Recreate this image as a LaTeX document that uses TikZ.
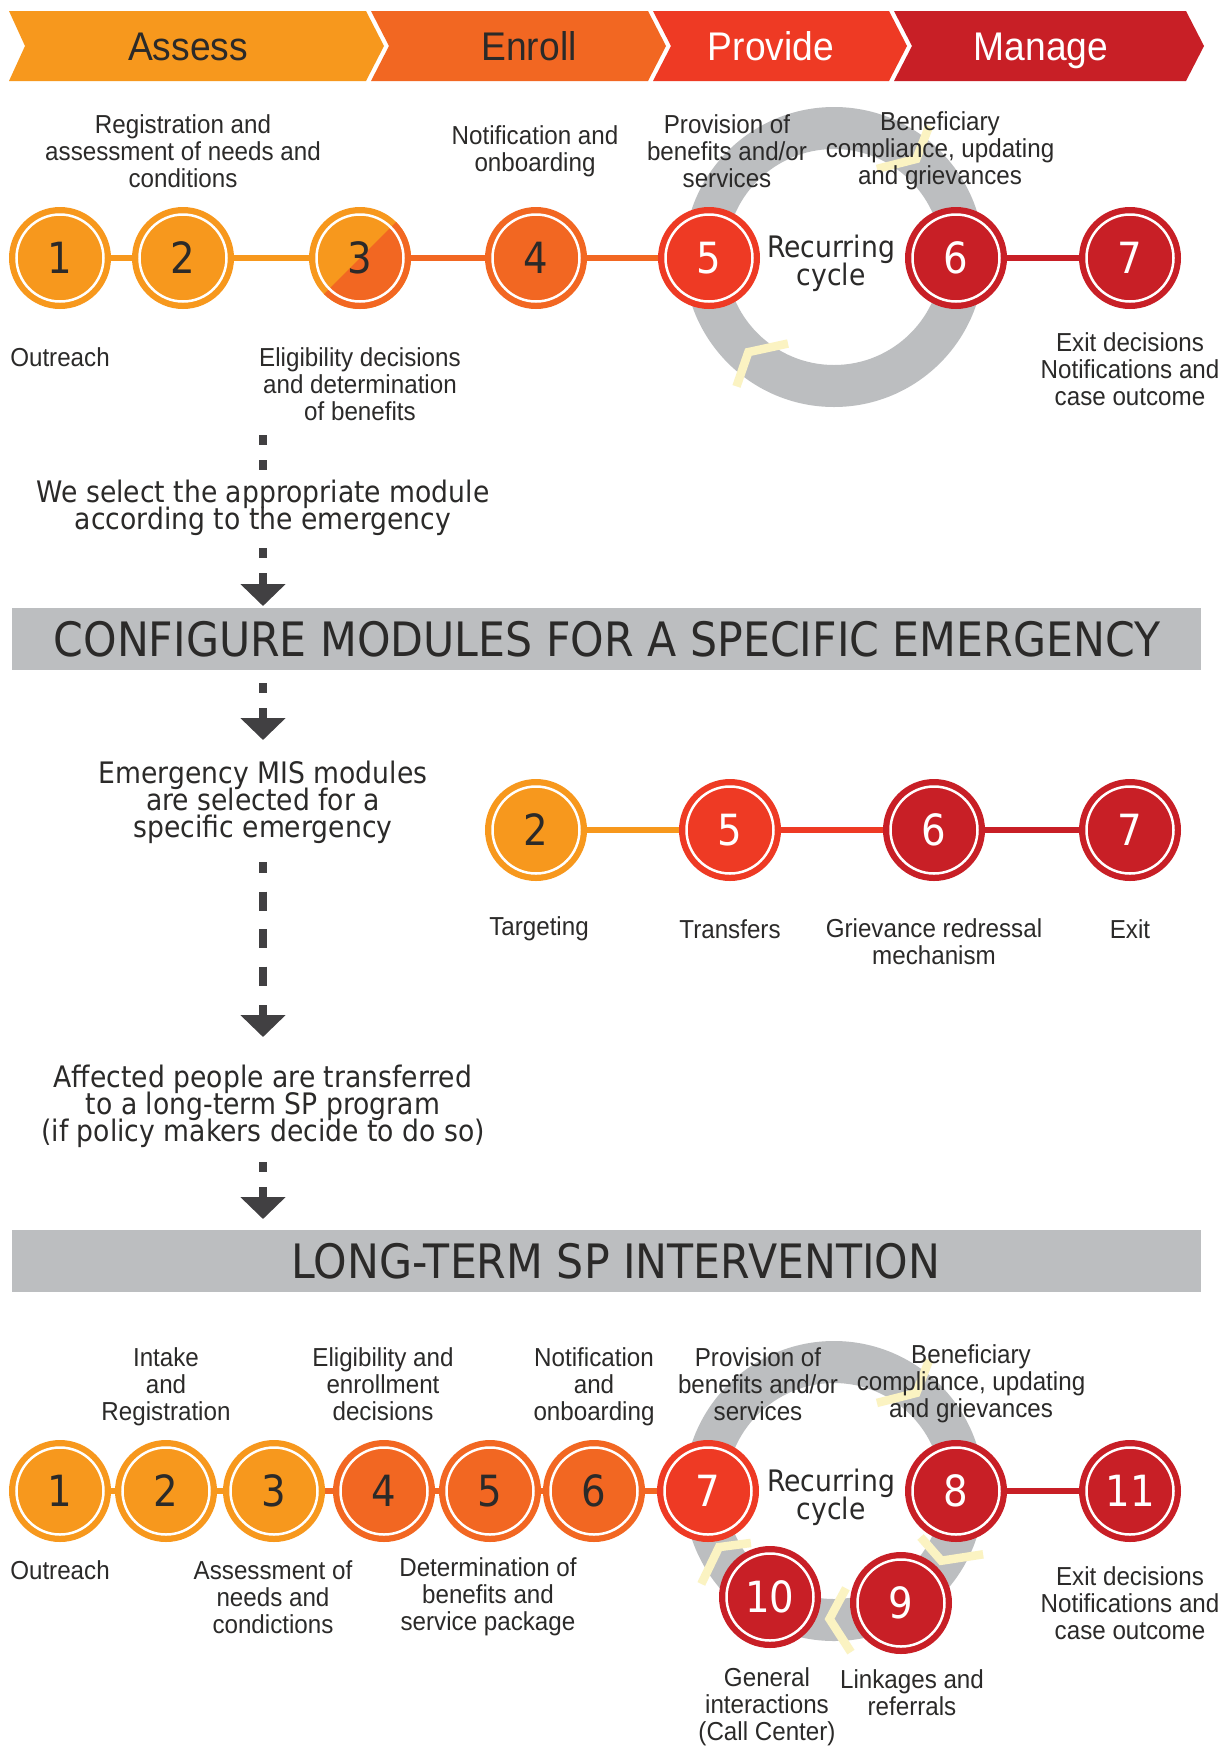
\documentclass[tikz,border=0pt]{standalone}
\usepackage{fontspec}
\setmainfont{Liberation Sans}
\newfontfamily\labfont{Liberation Sans}[FakeStretch=0.93]
\newfontfamily\tahfont{DejaVu Sans}[FakeStretch=0.9]
\usetikzlibrary{arrows.meta,calc}
\definecolor{cA}{HTML}{F7981D}
\definecolor{cE}{HTML}{F26722}
\definecolor{cP}{HTML}{EE3A24}
\definecolor{cM}{HTML}{C81F26}
\definecolor{bangray}{HTML}{BCBEC0}
\definecolor{ringgray}{HTML}{BCBEC0}
\definecolor{txt}{HTML}{2B2A29}
\definecolor{arr}{HTML}{414042}
\definecolor{paley}{HTML}{FBF3C2}
\newcommand\labsetfont{\labfont\fontsize{26}{27}\selectfont\lineskiplimit-50pt\relax}
\newcommand\tahsetfont{\tahfont\fontsize{29.6}{27}\selectfont\lineskiplimit-50pt\relax}
\newcommand\recsetfont{\tahfont\fontsize{29.6}{28}\selectfont\lineskiplimit-50pt\relax}
\tikzset{
 stepcirc/.style={circle, minimum size=102pt, inner sep=0pt, font=\tahfont\fontsize{43}{43}\selectfont},
 lab/.style={font=\labsetfont, text=txt, align=center, inner sep=0pt},
 tah/.style={font=\tahsetfont, text=txt, align=center, inner sep=0pt},
 rec/.style={font=\recsetfont, text=txt, align=center, inner sep=0pt},
 bantxt/.style={font=\tahfont\fontsize{47.4}{50}\selectfont, text=txt, inner sep=0pt},
 banbox/.style={fill=bangray, minimum width=1189pt, minimum height=62pt, inner sep=0pt},
 phasetxt/.style={font=\labfont\fontsize{40}{40}\selectfont, inner sep=0pt, anchor=base},
 conn/.style={line width=6pt},
 dashseg/.style={line width=8pt, arr},
 darrow/.style={line width=8pt, arr, -{Triangle[width=44pt,length=22pt]}},
 chev/.style={paley, line width=8.5pt, line join=miter},
}
\newcommand\mkstep[5]{%
 \node[stepcirc, fill=#3, text=#4] (#1) at (#2) {#5};
 \draw[white, line width=2.5pt] (#1.center) circle[radius=43.5pt];
}
% chevron on a ring: centre, inner-end angle, vertex angle, outer-end angle
\newcommand\ringchev[4]{%
 \draw[chev] ($(#1)+(#2:98pt)$) -- ($(#1)+(#3:128pt)$) -- ($(#1)+(#4:162pt)$);
}
\begin{document}
\begin{tikzpicture}[x=1pt,y=-1pt]
\fill[white] (0,0) rectangle (1228,1749);
\useasboundingbox (0,0) rectangle (1228,1749);

% ---- phase chevrons
\fill[cA] (9,11) -- (366,11) -- (384,46) -- (366,81) -- (9,81) -- (25,46) -- cycle;
\fill[cE] (371,11) -- (648,11) -- (666,46) -- (648,81) -- (371,81) -- (389,46) -- cycle;
\fill[cP] (653,11) -- (889,11) -- (907,46) -- (889,81) -- (653,81) -- (671,46) -- cycle;
\fill[cM] (894,11) -- (1186,11) -- (1204,46) -- (1186,81) -- (894,81) -- (912,46) -- cycle;
\node[phasetxt, text=txt] (phA) at (188,60) {Assess};
\node[phasetxt, text=txt] (phE) at (529,60) {Enroll};
\node[phasetxt, text=white] (phP) at (771,60) {Provide};
\node[phasetxt, text=white] (phM) at (1041,60) {Manage};

% ---- ring 1
\coordinate (ring1) at (834,257);
\fill[ringgray, even odd rule] (ring1) circle[radius=150pt] (ring1) circle[radius=108pt];
\ringchev{ring1}{64}{50}{54}
\ringchev{ring1}{242}{228}{233}

% ---- row 1 circles
\mkstep{r1c1}{60,258}{cA}{txt}{1}
\mkstep{r1c2}{183,258}{cA}{txt}{2}
\node[stepcirc, fill=cA, text=txt, path picture={\fill[cE] (path picture bounding box.north east) -- (path picture bounding box.south east) -- (path picture bounding box.south west) -- cycle;}] (r1c3) at (360,258) {3};
\draw[white, line width=2.5pt] (r1c3.center) circle[radius=43.5pt];
\mkstep{r1c4}{536,258}{cE}{txt}{4}
\mkstep{r1c5}{709,258}{cP}{white}{5}
\mkstep{r1c6}{956,258}{cM}{white}{6}
\mkstep{r1c7}{1130,258}{cM}{white}{7}
\draw[conn, cA] (r1c1) -- (r1c2);
\draw[conn, cA] (r1c2) -- (r1c3);
\draw[conn, cE] (r1c3) -- (r1c4);
\draw[conn, cE] (r1c4) -- (r1c5);
\draw[conn, cM] (r1c6) -- (r1c7);

% ---- row 1 labels
\node[lab] (l1reg) at (183,151) {Registration and\\assessment of needs and\\conditions};
\node[lab] (l1not) at (535,151) {Notification and\\onboarding};
\node[lab] (l1prov) at (727,151) {Provision of\\benefits and/or\\services};
\node[lab] (l1ben) at (940,151) {Beneficiary\\compliance, updating\\and grievances};
\node[lab] (l1out) at (60,357) {Outreach};
\node[lab] (l1elig) at (360,384) {Eligibility decisions\\and determination\\of benefits};
\node[lab] (l1exit) at (1130,369) {Exit decisions\\Notifications and\\case outcome};
\node[rec] (l1rec) at (831,263) {Recurring\\cycle};

% ---- flow 1
\coordinate (d1a) at (263,435); \coordinate (d1b) at (263,470);
\draw[dashseg, dash pattern=on 10pt off 15pt] (d1a) -- (d1b);
\node[tah] (seltxt) at (263,508) {We select the appropriate module\\according to the emergency};
\coordinate (d2a) at (263,548); \coordinate (d2b) at (263,558);
\draw[dashseg] (d2a) -- (d2b);
\coordinate (a1s) at (263,573); \coordinate (a1e) at (263,606);
\draw[darrow] (a1s) -- (a1e);

\node[banbox] (ban1) at (606.5,639) {};
\node[bantxt] (ban1t) at (607,639) {CONFIGURE MODULES FOR A SPECIFIC EMERGENCY};

\coordinate (d3a) at (263,683); \coordinate (d3b) at (263,693);
\draw[dashseg] (d3a) -- (d3b);
\coordinate (a2s) at (263,708); \coordinate (a2e) at (263,740);
\draw[darrow] (a2s) -- (a2e);

% ---- emergency modules
\node[tah] (emtxt) at (263,802) {Emergency MIS modules\\are selected for a\\specific emergency};
\mkstep{r2c2}{536,830}{cA}{txt}{2}
\mkstep{r2c5}{730,830}{cP}{white}{5}
\mkstep{r2c6}{934,830}{cM}{white}{6}
\mkstep{r2c7}{1130,830}{cM}{white}{7}
\draw[conn, cA] (r2c2) -- (r2c5);
\draw[conn, cP] (r2c5) -- (r2c6);
\draw[conn, cM] (r2c6) -- (r2c7);
\node[lab] (l2tar) at (539,929) {Targeting};
\node[lab] (l2tra) at (730,929) {Transfers};
\node[lab] (l2gri) at (934,942) {Grievance redressal\\mechanism};
\node[lab] (l2exi) at (1130,929) {Exit};

\coordinate (d4a) at (263,862); \coordinate (d4b) at (263,987);
\draw[dashseg, dash pattern=on 19pt off 18.5pt, dash phase=8pt] (d4a) -- (d4b);
\coordinate (a3s) at (263,1005); \coordinate (a3e) at (263,1037);
\draw[darrow] (a3s) -- (a3e);

\node[tah] (afftxt) at (263,1106) {Affected people are transferred\\to a long-term SP program\\(if policy makers decide to do so)};

\coordinate (d5a) at (263,1162); \coordinate (d5b) at (263,1172);
\draw[dashseg] (d5a) -- (d5b);
\coordinate (a4s) at (263,1187); \coordinate (a4e) at (263,1219);
\draw[darrow] (a4s) -- (a4e);

\node[banbox] (ban2) at (606.5,1261) {};
\node[bantxt] (ban2t) at (616,1261) {LONG-TERM SP INTERVENTION};

% ---- ring 2
\coordinate (ring2) at (834,1491);
\fill[ringgray, even odd rule] (ring2) circle[radius=150pt] (ring2) circle[radius=108pt];
\ringchev{ring2}{64}{50}{54}
\ringchev{ring2}{-28}{-33}{-23}
\ringchev{ring2}{-83}{-92}{-84}
\ringchev{ring2}{212}{206}{215}

% ---- row 3 circles
\mkstep{r3c1}{60,1491}{cA}{txt}{1}
\mkstep{r3c2}{166,1491}{cA}{txt}{2}
\mkstep{r3c3}{274,1491}{cA}{txt}{3}
\mkstep{r3c4}{384,1491}{cE}{txt}{4}
\mkstep{r3c5}{490,1491}{cE}{txt}{5}
\mkstep{r3c6}{594,1491}{cE}{txt}{6}
\mkstep{r3c7}{708,1491}{cP}{white}{7}
\mkstep{r3c8}{956,1491}{cM}{white}{8}
\mkstep{r3c9}{901,1603}{cM}{white}{9}
\mkstep{r3c10}{770,1597}{cM}{white}{10}
\mkstep{r3c11}{1130,1491}{cM}{white}{11}
\draw[conn, cA] (r3c1) -- (r3c2);
\draw[conn, cA] (r3c2) -- (r3c3);
\draw[conn, cE] (r3c3) -- (r3c4);
\draw[conn, cE] (r3c4) -- (r3c5);
\draw[conn, cE] (r3c5) -- (r3c6);
\draw[conn, cE] (r3c6) -- (r3c7);
\draw[conn, cM] (r3c8) -- (r3c11);

% ---- row 3 labels
\node[lab] (l3int) at (166,1387) {Intake\\and\\Registration};
\node[lab] (l3eli) at (383,1384) {Eligibility and\\enrollment\\decisions};
\node[lab] (l3not) at (594,1387) {Notification\\and\\onboarding};
\node[lab] (l3pro) at (758,1384) {Provision of\\benefits and/or\\services};
\node[lab] (l3ben) at (971,1384) {Beneficiary\\compliance, updating\\and grievances};
\node[rec] (l3rec) at (831,1497) {Recurring\\cycle};
\node[lab] (l3out) at (60,1570) {Outreach};
\node[lab] (l3ass) at (273,1597) {Assessment of\\needs and\\condictions};
\node[lab] (l3det) at (488,1597) {Determination of\\benefits and\\service package};
\node[lab] (l3exi) at (1130,1603) {Exit decisions\\Notifications and\\case outcome};
\node[lab] (l3gen) at (767,1707) {General\\interactions\\(Call Center)};
\node[lab] (l3lin) at (912,1693) {Linkages and\\referrals};
\end{tikzpicture}
\end{document}
